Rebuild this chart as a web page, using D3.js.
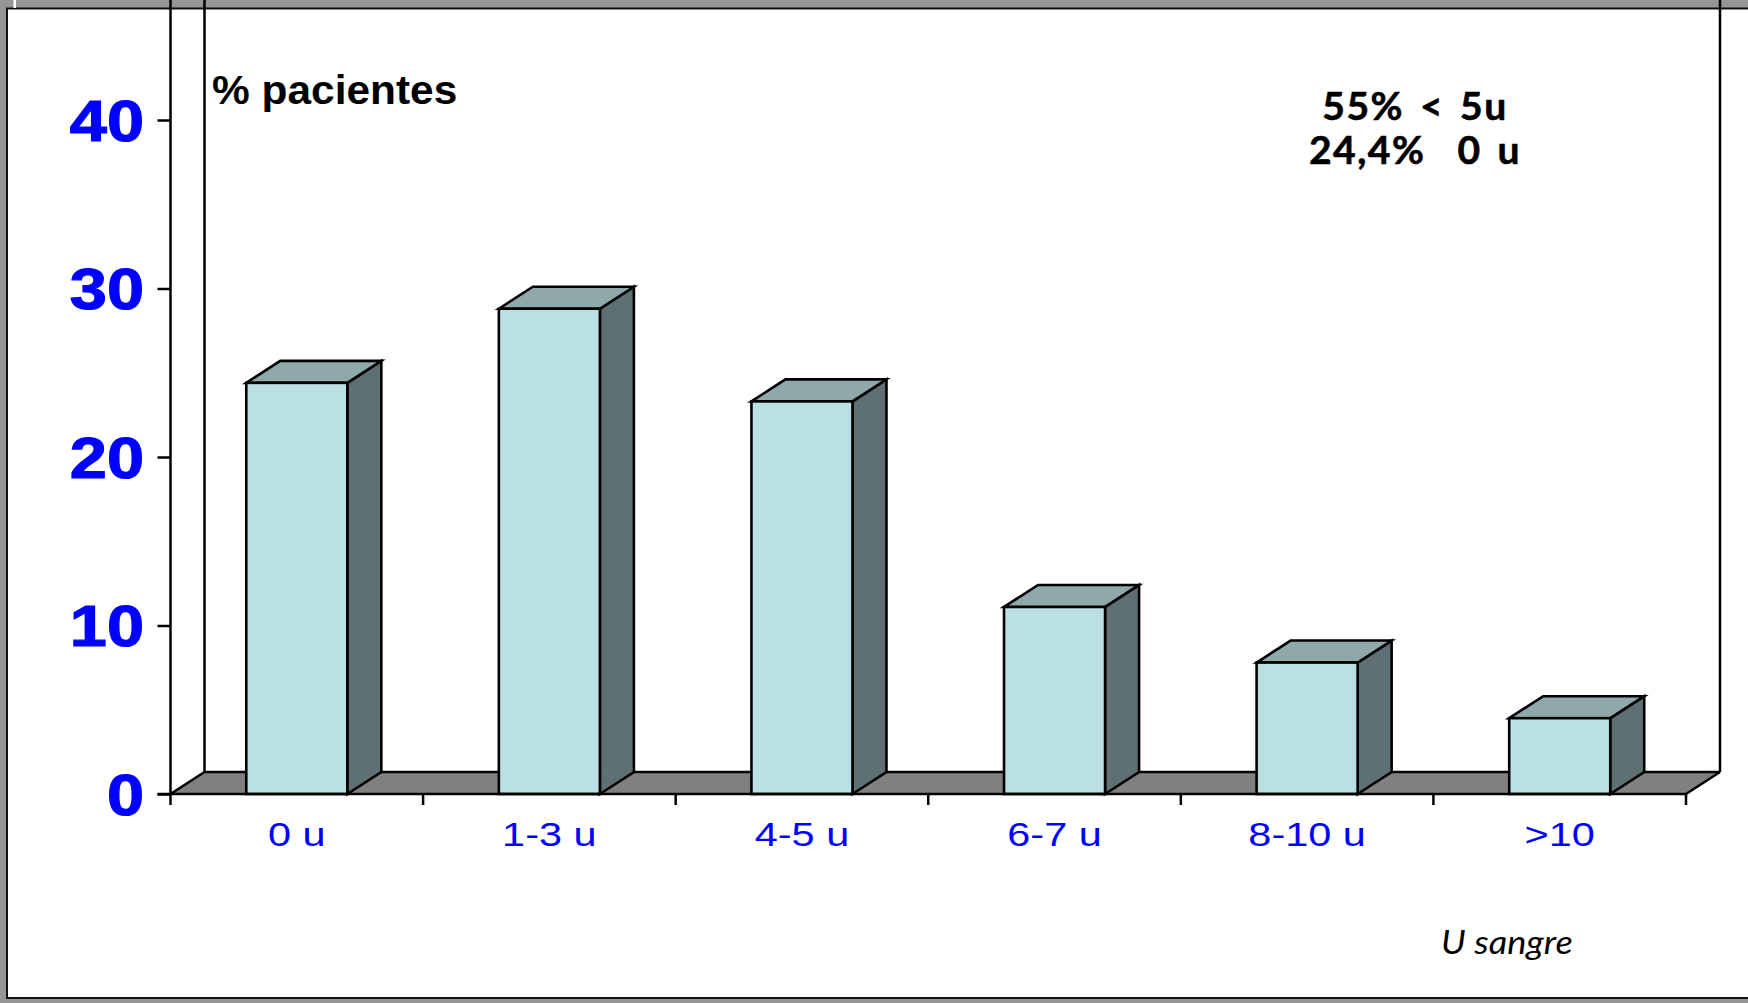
<!DOCTYPE html>
<html>
<head>
<meta charset="utf-8">
<script src="https://cdn.jsdelivr.net/npm/d3@7"></script>
<style>
html,body{margin:0;padding:0;background:#969696;overflow:hidden}
svg{display:block}
</style>
</head>
<body>
<svg id="chart" width="1748" height="1003"></svg>
<script>
const categories = ["0 u", "1-3 u", "4-5 u", "6-7 u", "8-10 u", ">10"];
const patientPercent = [24.4, 28.8, 23.3, 11.1, 7.8, 4.5];
const yTicks = [0, 10, 20, 30, 40];
const noteLines = ["55% < 5u", "24,4%  0 u"];
const yTitle = "% pacientes";
const xTitle = "U sangre";

const svg = d3.select("#chart");
const left = 170.5, right = 1686, base = 794, y40 = 120, dx = 34, dy = 22;
const sans = "'Liberation Sans', Arial, sans-serif";
const hand = "'Comic Sans MS', Lato, 'Noto Sans', sans-serif";

const x = d3.scaleBand().domain(categories).range([left, right]).paddingInner(0.6).paddingOuter(0.3);
const y = d3.scaleLinear().domain([0, 40]).range([base, y40]);

// page frame
svg.append("rect").attr("x", 0).attr("y", 0).attr("width", 1748).attr("height", 1003).attr("fill", "#969696");
svg.append("rect").attr("x", 7).attr("y", 8.5).attr("width", 1760).attr("height", 989.5)
  .attr("fill", "#fff").attr("stroke", "#111").attr("stroke-width", 2);
svg.append("rect").attr("x", 13.5).attr("y", 0).attr("width", 2.5).attr("height", 8).attr("fill", "#fff");

// floor and walls
const line = (x1, y1, x2, y2, w = 2.5) => svg.append("line").attr("x1", x1).attr("y1", y1).attr("x2", x2).attr("y2", y2)
  .attr("stroke", "#000").attr("stroke-width", w);
svg.append("polygon")
  .attr("points", [[left, base], [left + dx, base - dy], [right + dx, base - dy], [right, base]].join(" "))
  .attr("fill", "#808080");
line(left + dx, base - dy, right + dx, base - dy);
line(left, base, left + dx, base - dy);
line(right, base, right + dx, base - dy);
line(left, 0, left, base);
line(left + dx, 0, left + dx, base - dy);
line(right + dx, 0, right + dx, base - dy);

// 3D bars
const bars = svg.append("g").selectAll("g").data(categories.map((c, i) => ({c, v: patientPercent[i]}))).join("g")
  .attr("stroke", "#000").attr("stroke-width", 2.6).attr("stroke-linejoin", "miter");
const bw = x.bandwidth();
bars.append("polygon").attr("fill", "#5E7073")
  .attr("points", d => { const r = x(d.c) + bw, t = y(d.v); return [[r, base], [r + dx, base - dy], [r + dx, t - dy], [r, t]].join(" "); });
bars.append("polygon").attr("fill", "#8FA9AB")
  .attr("points", d => { const l = x(d.c), t = y(d.v); return [[l, t], [l + dx, t - dy], [l + bw + dx, t - dy], [l + bw, t]].join(" "); });
bars.append("rect").attr("fill", "#BBE0E3")
  .attr("x", d => x(d.c)).attr("y", d => y(d.v)).attr("width", bw).attr("height", d => base - y(d.v));

// value axis
const yAxis = svg.append("g").attr("transform", `translate(${left},0)`)
  .call(d3.axisLeft(y).tickValues(yTicks).tickSize(13).tickPadding(0));
yAxis.select(".domain").remove();
yAxis.selectAll("line").attr("stroke", "#000").attr("stroke-width", 2.5);
yAxis.selectAll("text")
  .attr("fill", "#0000FF").attr("stroke", "#0000FF").attr("stroke-width", 1.2)
  .style("font", `bold 58px ${sans}`).attr("text-anchor", "end").attr("dy", null).attr("x", null)
  .attr("transform", "translate(-26.5,20) scale(1.15,1)");

// category axis
const xAxis = svg.append("g").attr("transform", `translate(0,${base})`)
  .call(d3.axisBottom(x).tickSize(0).tickPadding(0));
xAxis.select(".domain").remove();
xAxis.selectAll("text")
  .attr("fill", "#0000FF").style("font", `34px ${sans}`).attr("text-anchor", "middle")
  .attr("y", null).attr("dy", null).attr("transform", "translate(0,52) scale(1.22,1)");
line(left - 13, base, right, base);
const boundaries = d3.range(categories.length + 1).map(i => left + i * x.step());
svg.append("g").selectAll("line").data(boundaries).join("line")
  .attr("x1", d => d).attr("x2", d => d).attr("y1", base).attr("y2", base + 11)
  .attr("stroke", "#000").attr("stroke-width", 2.5);

// annotations
svg.append("text").text(yTitle).attr("transform", "translate(212,103.5) scale(1.035,1)")
  .attr("fill", "#000").style("font", `bold 41px ${sans}`);
svg.append("g").selectAll("text").data(noteLines).join("text").text(d => d)
  .attr("x", 1415).attr("y", (d, i) => 120 + i * 44).attr("text-anchor", "middle")
  .style("white-space", "pre").style("letter-spacing", "1.5px").style("word-spacing", "5px")
  .attr("stroke", "#000").attr("stroke-width", 0.6)
  .attr("fill", "#000").style("font-family", hand).style("font-weight", "bold").style("font-size", "39px");
svg.append("text").text(xTitle).attr("transform", "translate(1441,954) scale(1.13,1)")
  .attr("fill", "#000").style("font", `italic 32px ${hand}`);
</script>
</body>
</html>
